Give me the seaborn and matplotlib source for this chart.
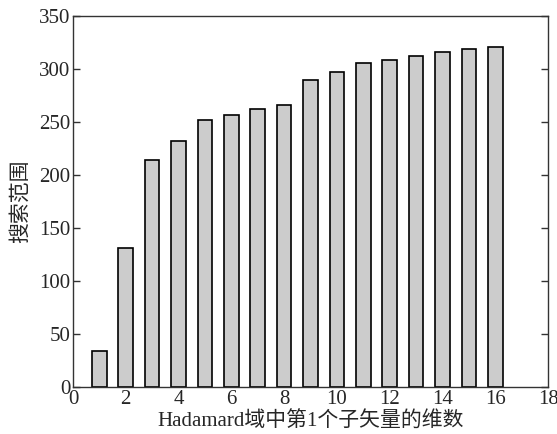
import matplotlib
matplotlib.use('Agg')
import matplotlib.pyplot as plt
import seaborn as sns

# 数据: Hadamard域中第1个子矢量的维数 vs 搜索范围
dims = [1, 2, 3, 4, 5, 6, 7, 8, 9, 10, 11, 12, 13, 14, 15, 16]
search_range = [34, 131, 214, 232, 252, 257, 262, 266, 290, 297, 306, 309, 312, 316, 319, 321]

sns.set_style('white')
plt.rcParams['font.family'] = ['Liberation Serif', 'Noto Sans CJK SC', 'DejaVu Sans']
plt.rcParams['axes.unicode_minus'] = False

fig = plt.figure(figsize=(5.57, 4.34), dpi=100)
ax = fig.add_axes([0.131, 0.108, 0.853, 0.855])

sns.barplot(x=dims, y=search_range, native_scale=True, width=0.55,
            color='#cccccc', edgecolor='black', linewidth=1.2,
            saturation=1, ax=ax)

ax.set_xlim(0, 18)
ax.set_ylim(0, 350)
ax.set_xticks(range(0, 19, 2))
ax.set_yticks(range(0, 351, 50))

for s in ax.spines.values():
    s.set_color('#333333')
    s.set_linewidth(1.0)

ax.tick_params(axis='y', direction='in', left=True, right=True, length=5,
               width=1, color='#333333', labelsize=15, pad=2)
ax.tick_params(axis='x', length=0, labelsize=15, pad=2)

ax.set_xlabel('Hadamard域中第1个子矢量的维数', fontsize=15, labelpad=2)
ax.set_ylabel('搜索范围', fontsize=15, labelpad=6)

fig.savefig('out.png', dpi=100, facecolor='white')
